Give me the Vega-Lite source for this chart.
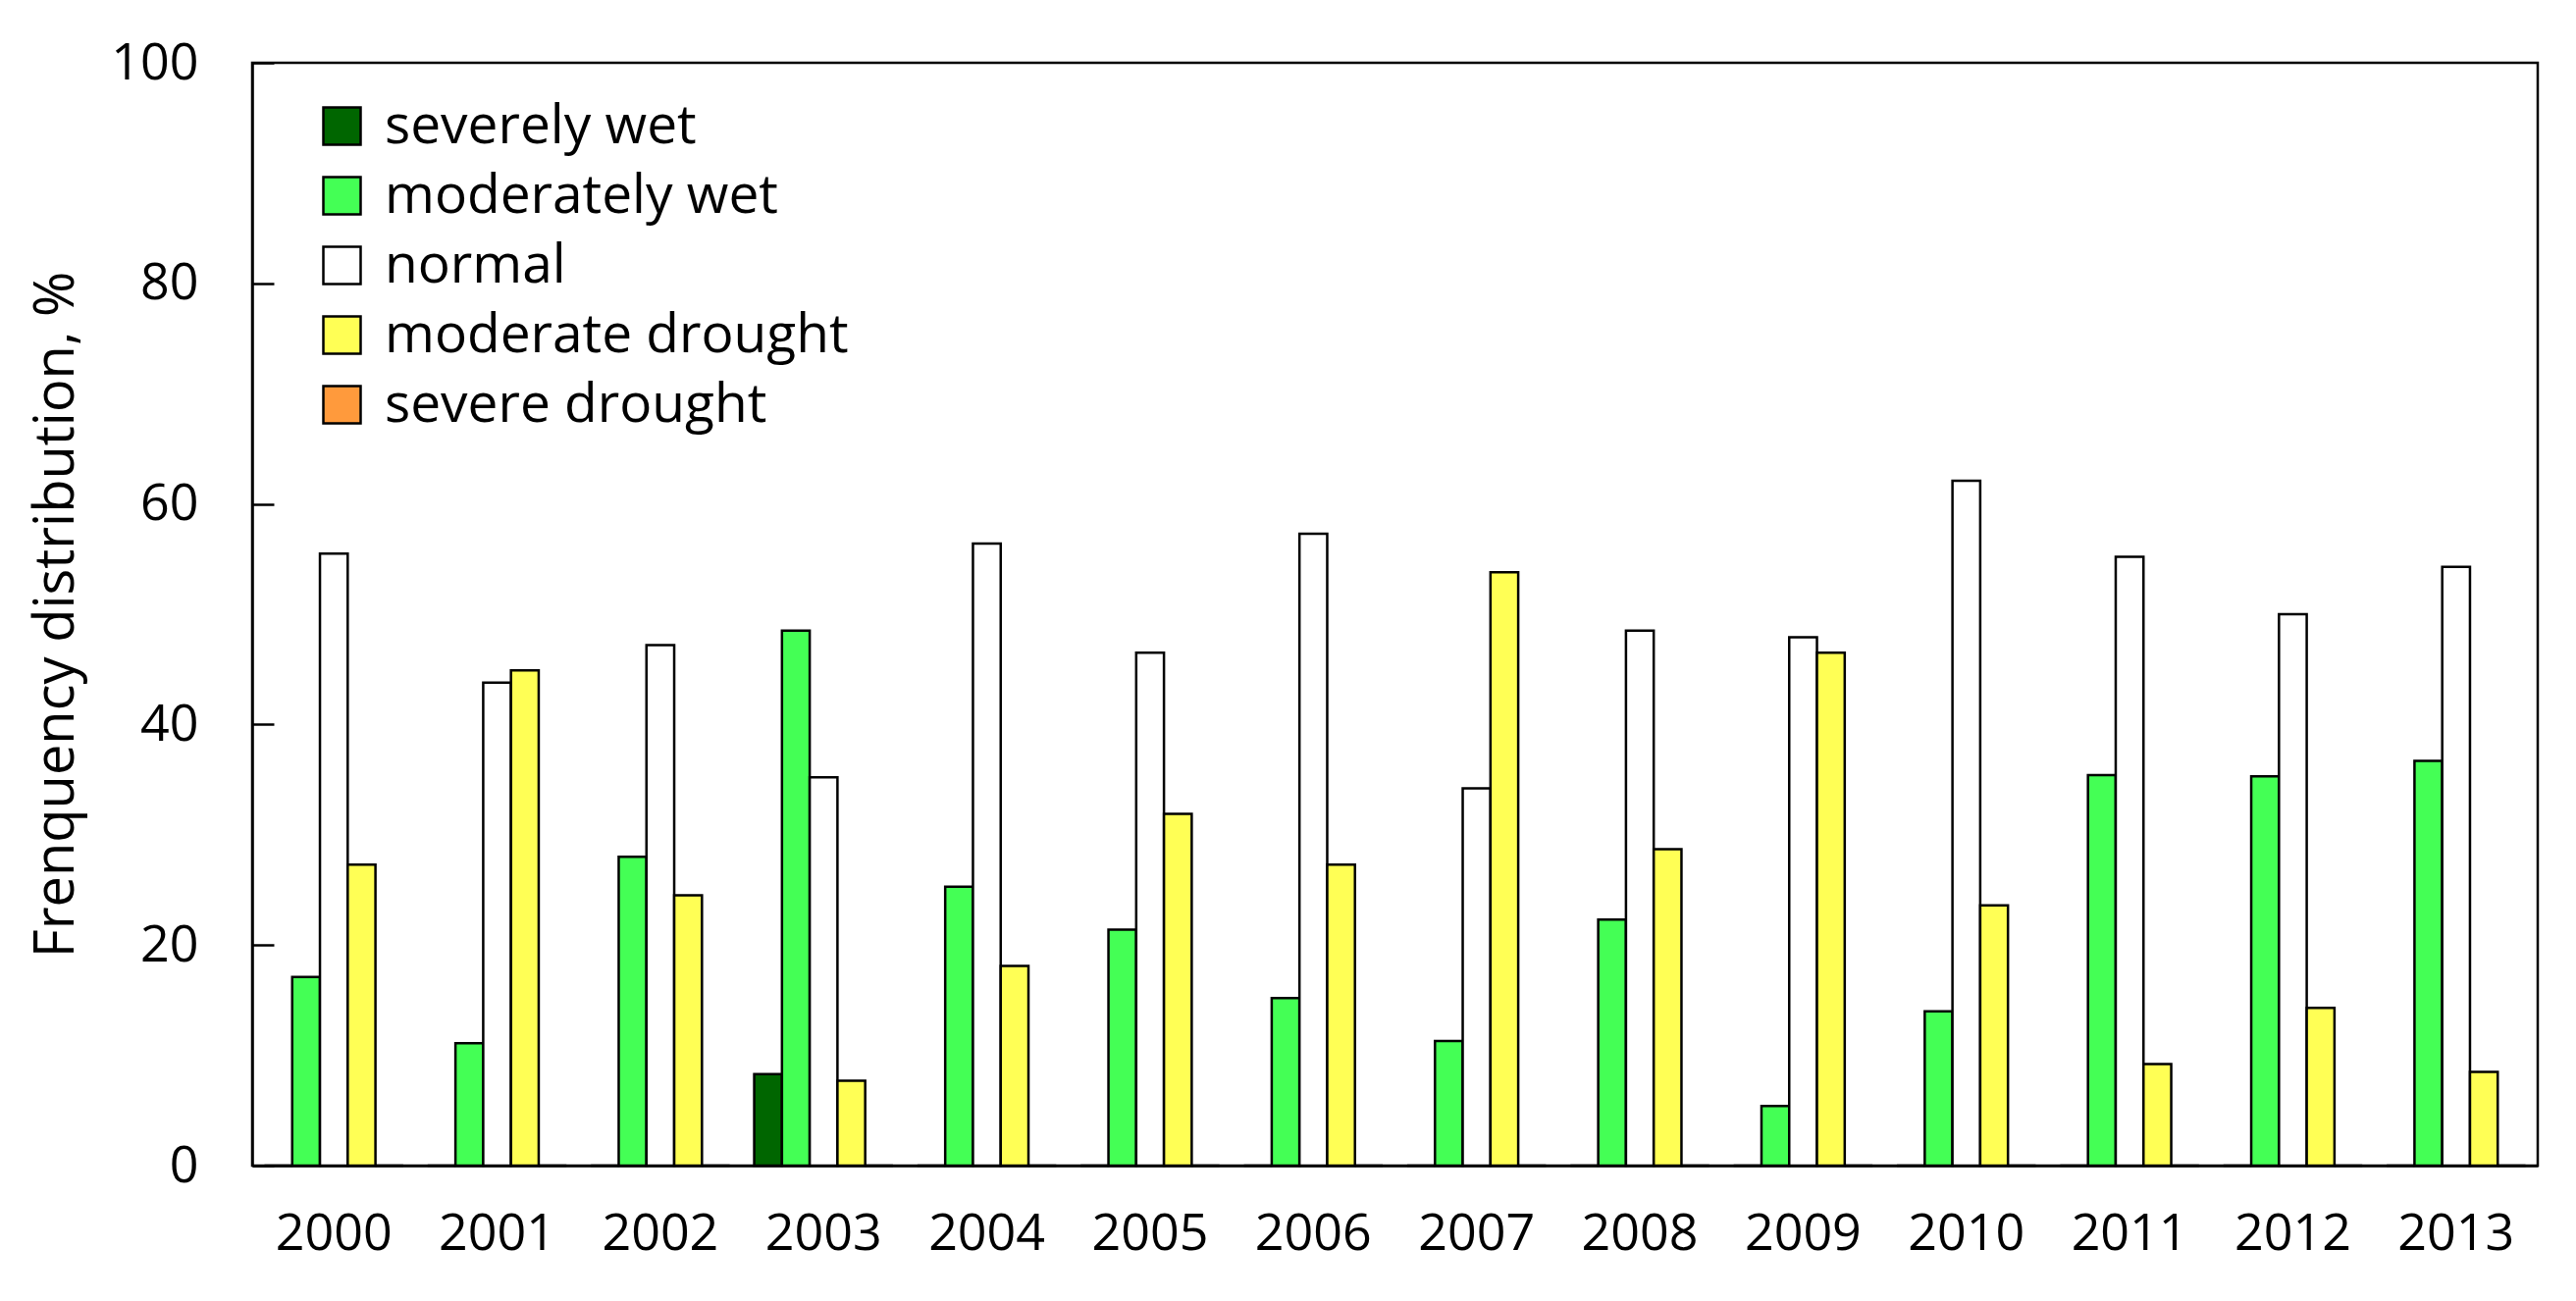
{
  "$schema": "https://vega.github.io/schema/vega-lite/v6.json",
  "width": 2329,
  "height": 1124,
  "autosize": {"type": "none"},
  "padding": {"left": 257, "top": 64, "right": 39, "bottom": 138},
  "background": "white",
  "config": {
    "font": "Open Sans",
    "view": {"stroke": "black", "strokeWidth": 2.5},
    "axis": {"grid": false, "domainColor": "black", "domainWidth": 2.5, "tickColor": "black", "tickWidth": 2.5, "labelColor": "black", "titleColor": "black", "labelFont": "Open Sans", "titleFont": "Open Sans", "labelFontSize": 52, "titleFontSize": 56, "titleFontWeight": "normal"}
  },
  "data": {
    "values": [
      {"year": "2000", "category": "severely wet", "value": 0},
      {"year": "2000", "category": "moderately wet", "value": 17.1},
      {"year": "2000", "category": "normal", "value": 55.5},
      {"year": "2000", "category": "moderate drought", "value": 27.3},
      {"year": "2000", "category": "severe drought", "value": 0},
      {"year": "2001", "category": "severely wet", "value": 0},
      {"year": "2001", "category": "moderately wet", "value": 11.1},
      {"year": "2001", "category": "normal", "value": 43.8},
      {"year": "2001", "category": "moderate drought", "value": 44.9},
      {"year": "2001", "category": "severe drought", "value": 0},
      {"year": "2002", "category": "severely wet", "value": 0},
      {"year": "2002", "category": "moderately wet", "value": 28.0},
      {"year": "2002", "category": "normal", "value": 47.2},
      {"year": "2002", "category": "moderate drought", "value": 24.5},
      {"year": "2002", "category": "severe drought", "value": 0},
      {"year": "2003", "category": "severely wet", "value": 8.3},
      {"year": "2003", "category": "moderately wet", "value": 48.5},
      {"year": "2003", "category": "normal", "value": 35.2},
      {"year": "2003", "category": "moderate drought", "value": 7.7},
      {"year": "2003", "category": "severe drought", "value": 0},
      {"year": "2004", "category": "severely wet", "value": 0},
      {"year": "2004", "category": "moderately wet", "value": 25.3},
      {"year": "2004", "category": "normal", "value": 56.4},
      {"year": "2004", "category": "moderate drought", "value": 18.1},
      {"year": "2004", "category": "severe drought", "value": 0},
      {"year": "2005", "category": "severely wet", "value": 0},
      {"year": "2005", "category": "moderately wet", "value": 21.4},
      {"year": "2005", "category": "normal", "value": 46.5},
      {"year": "2005", "category": "moderate drought", "value": 31.9},
      {"year": "2005", "category": "severe drought", "value": 0},
      {"year": "2006", "category": "severely wet", "value": 0},
      {"year": "2006", "category": "moderately wet", "value": 15.2},
      {"year": "2006", "category": "normal", "value": 57.3},
      {"year": "2006", "category": "moderate drought", "value": 27.3},
      {"year": "2006", "category": "severe drought", "value": 0},
      {"year": "2007", "category": "severely wet", "value": 0},
      {"year": "2007", "category": "moderately wet", "value": 11.3},
      {"year": "2007", "category": "normal", "value": 34.2},
      {"year": "2007", "category": "moderate drought", "value": 53.8},
      {"year": "2007", "category": "severe drought", "value": 0},
      {"year": "2008", "category": "severely wet", "value": 0},
      {"year": "2008", "category": "moderately wet", "value": 22.3},
      {"year": "2008", "category": "normal", "value": 48.5},
      {"year": "2008", "category": "moderate drought", "value": 28.7},
      {"year": "2008", "category": "severe drought", "value": 0},
      {"year": "2009", "category": "severely wet", "value": 0},
      {"year": "2009", "category": "moderately wet", "value": 5.4},
      {"year": "2009", "category": "normal", "value": 47.9},
      {"year": "2009", "category": "moderate drought", "value": 46.5},
      {"year": "2009", "category": "severe drought", "value": 0},
      {"year": "2010", "category": "severely wet", "value": 0},
      {"year": "2010", "category": "moderately wet", "value": 14.0},
      {"year": "2010", "category": "normal", "value": 62.1},
      {"year": "2010", "category": "moderate drought", "value": 23.6},
      {"year": "2010", "category": "severe drought", "value": 0},
      {"year": "2011", "category": "severely wet", "value": 0},
      {"year": "2011", "category": "moderately wet", "value": 35.4},
      {"year": "2011", "category": "normal", "value": 55.2},
      {"year": "2011", "category": "moderate drought", "value": 9.2},
      {"year": "2011", "category": "severe drought", "value": 0},
      {"year": "2012", "category": "severely wet", "value": 0},
      {"year": "2012", "category": "moderately wet", "value": 35.3},
      {"year": "2012", "category": "normal", "value": 50.0},
      {"year": "2012", "category": "moderate drought", "value": 14.3},
      {"year": "2012", "category": "severe drought", "value": 0},
      {"year": "2013", "category": "severely wet", "value": 0},
      {"year": "2013", "category": "moderately wet", "value": 36.7},
      {"year": "2013", "category": "normal", "value": 54.3},
      {"year": "2013", "category": "moderate drought", "value": 8.5},
      {"year": "2013", "category": "severe drought", "value": 0}
    ]
  },
  "mark": {"type": "bar", "stroke": "black", "strokeWidth": 2.5, "cornerRadius": 0},
  "encoding": {
    "x": {
      "field": "year", "type": "nominal",
      "scale": {"paddingInner": 0.15, "paddingOuter": 0.075},
      "axis": {"title": null, "ticks": false, "labelAngle": 0, "labelPadding": 44}
    },
    "xOffset": {
      "field": "category", "type": "nominal",
      "sort": ["severely wet", "moderately wet", "normal", "moderate drought", "severe drought"],
      "scale": {"paddingInner": 0, "paddingOuter": 0}
    },
    "y": {
      "field": "value", "type": "quantitative",
      "scale": {"domain": [0, 100], "nice": false},
      "axis": {"title": "Frenquency distribution, %", "values": [0, 20, 40, 60, 80, 100], "tickSize": -22, "labelPadding": 77, "titlePadding": 26}
    },
    "color": {
      "field": "category", "type": "nominal",
      "scale": {
        "domain": ["severely wet", "moderately wet", "normal", "moderate drought", "severe drought"],
        "range": ["#006600", "#44FF55", "#FFFFFF", "#FFFF55", "#FF9A3C"]
      },
      "legend": {
        "title": null, "orient": "none", "legendX": 64, "legendY": 37,
        "symbolType": "square", "symbolSize": 1444, "symbolStrokeColor": "black", "symbolStrokeWidth": 2.5,
        "labelFontSize": 55, "labelFont": "Open Sans", "labelColor": "black", "labelOffset": 16,
        "rowPadding": 15, "labelLimit": 900
      }
    }
  }
}
